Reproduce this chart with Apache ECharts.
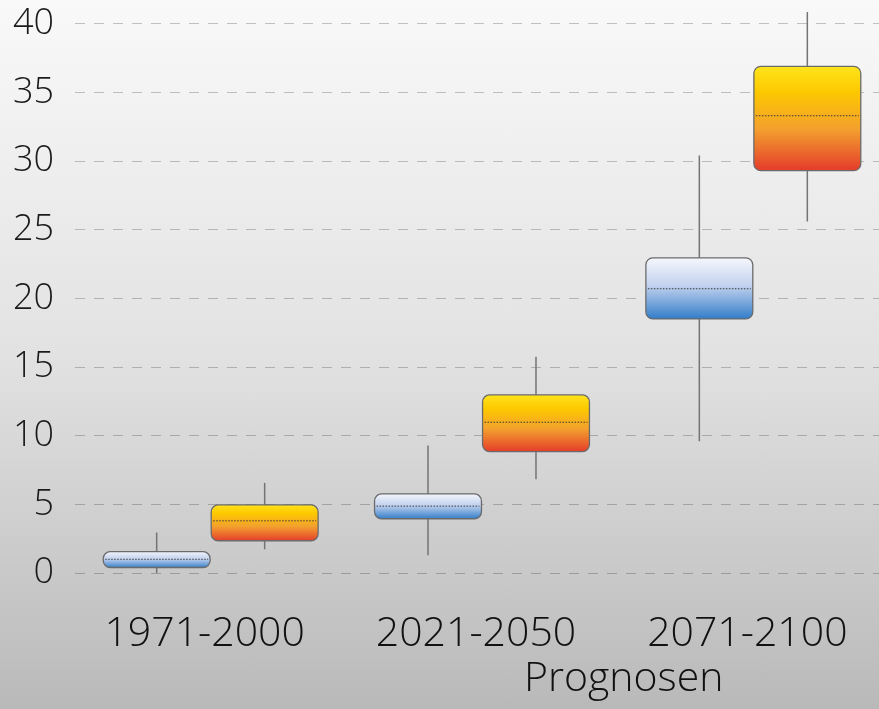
<!DOCTYPE html>
<html>
<head>
<meta charset="utf-8">
<script src="https://cdn.jsdelivr.net/npm/echarts@6/dist/echarts.min.js"></script>
<style>
    html, body { margin: 0; padding: 0; }
    #main {
        width: 879px;
        height: 709px;
        background: linear-gradient(to bottom, #f9f9f9 0%, #e2e2e2 50%, #b9b9b9 100%);
    }
</style>
</head>
<body>
<div id="main"></div>
<script>
// Zeiträume
var categories = ['1971-2000', '2021-2050', '2071-2100'];
var yTicks = [0, 5, 10, 15, 20, 25, 30, 35, 40];

// blaue Boxen
var blueMin = [0.0, 1.3, 9.6];
var blueQ1 = [0.4, 3.95, 18.5];
var blueMed = [1.0, 4.87, 20.7];
var blueQ3 = [1.55, 5.76, 22.95];
var blueMax = [2.95, 9.28, 30.4];

// orange Boxen
var orangeMin = [1.73, 6.83, 25.6];
var orangeQ1 = [2.35, 8.84, 29.3];
var orangeMed = [3.8, 10.98, 33.3];
var orangeQ3 = [4.96, 12.97, 36.9];
var orangeMax = [6.56, 15.74, 40.85];

var FONT = "'Open Sans', 'Noto Sans', sans-serif";

function rows(mins, q1s, meds, q3s, maxs) {
    var out = [];
    for (var i = 0; i < categories.length; i++) {
        out.push([i, mins[i], q1s[i], meds[i], q3s[i], maxs[i]]);
    }
    return out;
}

function makeBox(shift, stops) {
    return function (params, api) {
        var cat = api.value(0);
        var lo = api.coord([cat, api.value(1)]);
        var q1 = api.coord([cat, api.value(2)]);
        var med = api.coord([cat, api.value(3)]);
        var q3 = api.coord([cat, api.value(4)]);
        var hi = api.coord([cat, api.value(5)]);
        var bw = api.size([1, 0])[0];
        var cx = lo[0] + bw * shift;
        var w = bw * 0.394;
        return {
            type: 'group',
            children: [
                {
                    type: 'line',
                    shape: { x1: cx, y1: hi[1], x2: cx, y2: lo[1] },
                    style: { stroke: '#747474', lineWidth: 1.5 }
                },
                {
                    type: 'rect',
                    shape: { x: cx - w / 2, y: q3[1], width: w, height: q1[1] - q3[1], r: 7 },
                    style: {
                        fill: new echarts.graphic.LinearGradient(0, 0, 0, 1, stops),
                        stroke: '#6b6b6b',
                        lineWidth: 1.3
                    }
                },
                {
                    type: 'line',
                    shape: { x1: cx - w / 2 + 2, y1: med[1], x2: cx + w / 2 - 2, y2: med[1] },
                    style: { stroke: '#3a3a3a', lineWidth: 1, lineDash: [1.5, 1.5] }
                }
            ]
        };
    };
}

var blueStops = [
    { offset: 0, color: '#f7f8fd' },
    { offset: 0.45, color: '#c3d2ee' },
    { offset: 1, color: '#2f7cc8' }
];
var orangeStops = [
    { offset: 0, color: '#ffe51c' },
    { offset: 0.25, color: '#fdc800' },
    { offset: 0.6, color: '#f3a02e' },
    { offset: 1, color: '#e43a2b' }
];

var myChart = echarts.init(document.getElementById('main'));
var option = {
    animation: false,
    backgroundColor: 'transparent',
    grid: {
        left: 75,
        top: 10,
        width: 814,
        bottom: 136,
        outerBoundsMode: 'none'
    },
    xAxis: {
        type: 'category',
        data: categories,
        axisLine: { show: false },
        axisTick: { show: false },
        splitLine: { show: false },
        axisLabel: {
            interval: 0,
            hideOverlap: false,
            margin: 41,
            fontFamily: FONT,
            fontWeight: 300,
            fontSize: 41,
            color: '#111',
            padding: [0, 12, 0, 0]
        }
    },
    yAxis: {
        type: 'value',
        min: 0,
        max: 41,
        interval: 5,
        axisLine: { show: false },
        axisTick: { show: false },
        axisLabel: {
            margin: 21,
            showMaxLabel: false,
            fontFamily: FONT,
            fontWeight: 300,
            fontSize: 36,
            color: '#1a1a1a',
            formatter: function (v) {
                return yTicks.indexOf(v) >= 0 ? String(v) : '';
            }
        },
        splitLine: {
            show: true,
            showMaxLine: false,
            lineStyle: { color: 'rgba(0,0,0,0.22)', type: [10, 9], width: 1.2 }
        }
    },
    graphic: [
        {
            type: 'text',
            left: 524,
            top: 659,
            style: {
                text: 'Prognosen',
                font: '300 41px ' + FONT,
                fill: '#111'
            }
        }
    ],
    series: [
        {
            name: 'blau',
            type: 'custom',
            renderItem: makeBox(-0.199, blueStops),
            encode: { x: 0, y: [1, 2, 3, 4, 5] },
            data: rows(blueMin, blueQ1, blueMed, blueQ3, blueMax),
            z: 3
        },
        {
            name: 'orange',
            type: 'custom',
            renderItem: makeBox(0.199, orangeStops),
            encode: { x: 0, y: [1, 2, 3, 4, 5] },
            data: rows(orangeMin, orangeQ1, orangeMed, orangeQ3, orangeMax),
            z: 3
        }
    ]
};
myChart.setOption(option);
</script>
</body>
</html>
